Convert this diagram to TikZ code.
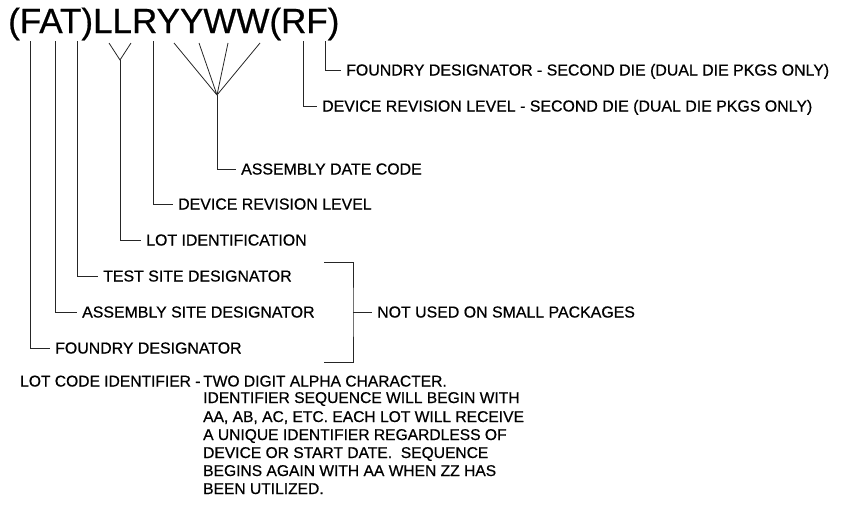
\documentclass[tikz,border=0pt]{standalone}
\usepackage{fontspec}
\setmainfont{Liberation Sans}[FakeBold=0.6]
\begin{document}
\begin{tikzpicture}[x=1pt,y=-1pt,
  conn/.style={line width=0.8pt,draw=black!85},
  lab/.style={font=\fontsize{15.9}{18}\selectfont,inner xsep=5pt,inner ysep=0pt,text height=11pt,text depth=0pt,anchor=west},
  para/.style={font=\fontsize{15.6}{18}\selectfont,inner sep=0pt,anchor=base west}]
\useasboundingbox (0,0) rectangle (842,506);
% header
\node[font=\fontsize{35}{40}\selectfont,inner sep=0pt,anchor=base west] (hdr) at (8,33) {(FAT)LLRYYWW(RF)};
% tops of leader lines
\coordinate (tF) at (30,41);
\coordinate (tA) at (55,41);
\coordinate (tT) at (77,41);
\coordinate (tL1) at (109,43);
\coordinate (tL2) at (131,43);
\coordinate (jL) at (120,60);
\coordinate (tR) at (153,41);
\coordinate (tY1) at (174,43);
\coordinate (tY2) at (199,43);
\coordinate (tW1) at (228,43);
\coordinate (tW2) at (260,43);
\coordinate (jD) at (217,95);
\coordinate (tR2) at (303,41);
\coordinate (tF2) at (325,41);
% labels
\node[lab] (labFS) at (341,70) {FOUNDRY DESIGNATOR - SECOND DIE (DUAL DIE PKGS ONLY)};
\node[lab] (labRS) at (317,106) {DEVICE REVISION LEVEL - SECOND DIE (DUAL DIE PKGS ONLY)};
\node[lab] (labDate) at (236,169) {ASSEMBLY DATE CODE};
\node[lab] (labRev) at (173,204) {DEVICE REVISION LEVEL};
\node[lab] (labLot) at (141,240) {LOT IDENTIFICATION};
\node[lab] (labTest) at (98,276) {TEST SITE DESIGNATOR};
\node[lab] (labAsm) at (77,312) {ASSEMBLY SITE DESIGNATOR};
\node[lab] (labFdy) at (50,348) {FOUNDRY DESIGNATOR};
\node[lab] (labNU) at (372,312) {NOT USED ON SMALL PACKAGES};
% connectors
\draw[conn] (tF2) |- (labFS.west);
\draw[conn] (tR2) |- (labRS.west);
\draw[conn] (tY1) -- (jD) (tY2) -- (jD) (tW1) -- (jD) (tW2) -- (jD);
\draw[conn] (jD) |- (labDate.west);
\draw[conn] (tR) |- (labRev.west);
\draw[conn] (tL1) -- (jL) -- (tL2);
\draw[conn] (jL) |- (labLot.west);
\draw[conn] (tT) |- (labTest.west);
\draw[conn] (tA) |- (labAsm.west);
\draw[conn] (tF) |- (labFdy.west);
% bracket
\coordinate (bTop) at (324,262);
\coordinate (bBot) at (324,362);
\coordinate (bx) at (353,312);
\draw[conn] (bTop) -| (bx) |- (bBot);
\draw[conn] (bx) -- (labNU.west);
% lot code paragraph
\node[para] (pc0) at (20,386.5) {LOT CODE IDENTIFIER - };
\node[para] (pc1) at (203,386.5) {TWO DIGIT ALPHA CHARACTER.};
\node[para] (pc2) at (203,403) {IDENTIFIER SEQUENCE WILL BEGIN WITH};
\node[para] (pc3) at (203,422) {AA, AB, AC, ETC. EACH LOT WILL RECEIVE};
\node[para] (pc4) at (203,440) {A UNIQUE IDENTIFIER REGARDLESS OF};
\node[para] (pc5) at (203,458) {DEVICE OR START DATE.\ \ SEQUENCE};
\node[para] (pc6) at (203,476) {BEGINS AGAIN WITH AA WHEN ZZ HAS};
\node[para] (pc7) at (203,494) {BEEN UTILIZED.};
\end{tikzpicture}
\end{document}
